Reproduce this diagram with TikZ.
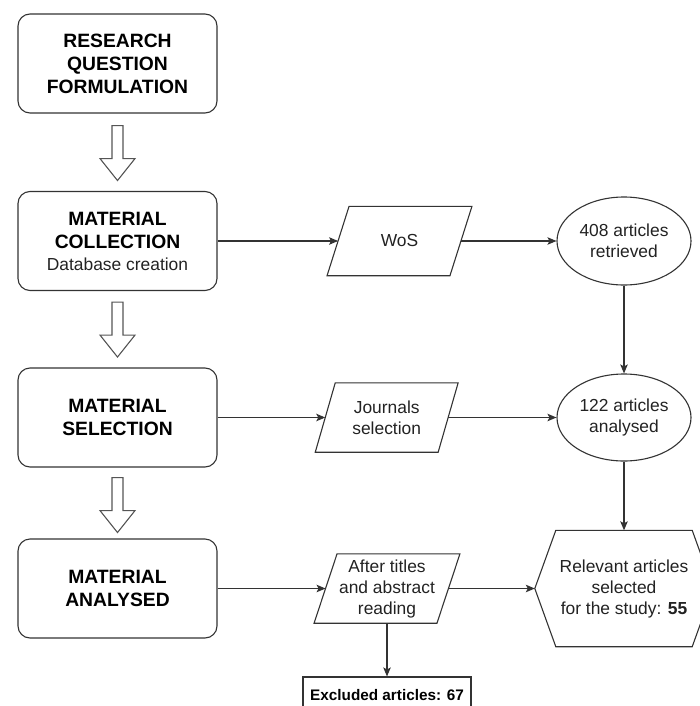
\documentclass[tikz,border=0pt]{standalone}
\usepackage{fontspec}
\setmainfont{Liberation Sans}
\usetikzlibrary{shapes.geometric,arrows.meta,calc}
\definecolor{ink}{HTML}{222222}
\definecolor{edge}{HTML}{333333}
\definecolor{hollowedge}{HTML}{555555}
\begin{document}
\begin{tikzpicture}[x=1pt,y=-1pt,
  stage/.style={draw=edge, line width=1.1pt, rounded corners=12pt,
    minimum width=199pt, minimum height=99pt, inner sep=0pt, align=center,
    font=\fontsize{19.3}{23}\selectfont\bfseries, text=black},
  plain/.style={align=center, font=\fontsize{17.4}{21}\selectfont, text=ink, inner sep=0pt},
  io/.style={plain, minimum width=122.5pt, minimum height=69pt},
  oval/.style={plain, ellipse, draw=edge, line width=1.1pt,
    minimum width=134pt, minimum height=88pt, font=\fontsize{17.4}{20.5}\selectfont},
  link/.style={draw=edge, line width=1.1pt, -{Stealth[length=9pt,width=7.5pt,inset=2pt]}},
  outline/.style={draw=edge, line width=1.1pt, line join=miter},
  hollow/.style={draw=hollowedge, fill=white, line width=1.1pt, line join=miter}
]
\useasboundingbox (0,0) rectangle (700,706);

% process stages on the left
\node[stage] (rq) at (117.5,63.5) {RESEARCH\\QUESTION\\FORMULATION};
\node[stage] (mc) at (117.5,241) {MATERIAL\\COLLECTION\\[-1pt]{\mdseries\color{ink}\fontsize{17.4}{21}\selectfont Database creation}};
\node[stage] (ms) at (117.5,417.5) {MATERIAL\\SELECTION};
\node[stage] (ma) at (117.5,588.5) {MATERIAL\\ANALYSED};

% inputs / filters
\node[io] (wos) at (399.5,241) {WoS};
\node[io] (js) at (386.7,417.5) {Journals\\selection};
\node[io] (atr) at (387,588.5) {After titles\\and abstract\\reading};

% article counts
\node[oval] (r408) at (624,241) {408 articles\\retrieved};
\node[oval, minimum height=87pt] (a122) at (624,417.5) {122 articles\\analysed};
\node[plain, minimum width=178pt, minimum height=116pt] (rel) at (624,588.5)
  {Relevant articles\\selected\\for the study: \textbf{55}};
\node[draw=edge, line width=1.1pt, minimum width=168pt, minimum height=36pt, inner sep=0pt,
  font=\fontsize{15.3}{18}\selectfont\bfseries] (exc) at (387,695) {Excluded articles: 67};

% parallelogram outlines
\foreach \n/\s in {wos/11, js/10, atr/11.5}
  \draw[outline] ([xshift=\s]\n.north west) -- ([xshift=\s]\n.north east)
    -- ([xshift=-\s]\n.south east) -- ([xshift=-\s]\n.south west) -- cycle;

% hexagon outline
\draw[outline] (rel.west) -- ([xshift=21]rel.north west) -- ([xshift=-21]rel.north east)
  -- (rel.east) -- ([xshift=-21]rel.south east) -- ([xshift=21]rel.south west) -- cycle;

% hollow block arrows between stages
\foreach \a/\o in {rq/12, mc/11, ms/10}
  \draw[hollow] ($(\a.south)+(-5.5,\o)$) -- ++(0,33) -- ++(-12,0) -- ++(17.5,22)
    -- ++(17.5,-22) -- ++(-12,0) -- ++(0,-33) -- cycle;

% connectors
\draw[link] (mc.east) -- (wos.west);
\draw[link] (wos.east) -- (r408.west);
\draw[link] (r408.south) -- (a122.north);
\draw[link] (ms.east) -- (js.west);
\draw[link] (js.east) -- (a122.west);
\draw[link] (a122.south) -- (rel.north);
\draw[link] (ma.east) -- (atr.west);
\draw[link] (atr.east) -- (rel.west);
\draw[link] (atr.south) -- (exc.north);
\end{tikzpicture}
\end{document}
